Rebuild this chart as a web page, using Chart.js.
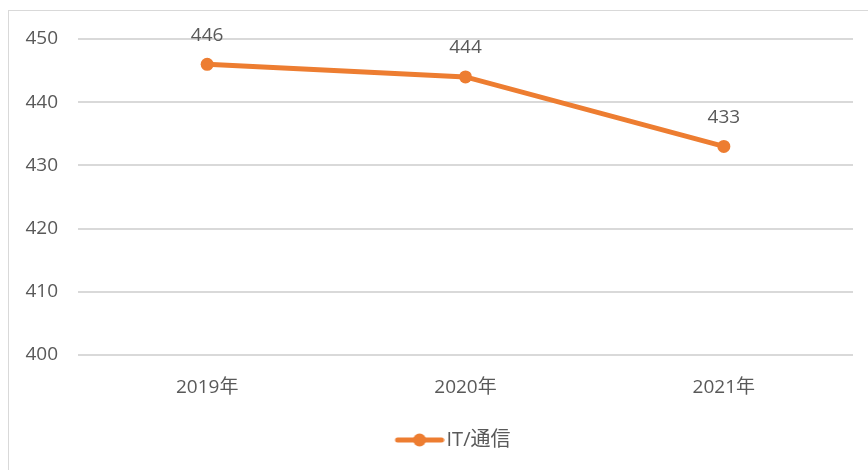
<!DOCTYPE html>
<html lang="ja">
  <head>
    <meta charset="UTF-8" />
    <title>IT/通信</title>
    <script src="https://cdn.jsdelivr.net/npm/chart.js@4/dist/chart.umd.min.js"></script>
    <style>
      html, body { margin: 0; padding: 0; background: #fff; overflow: hidden; }
      #frame {
        position: absolute; left: 8px; top: 10px; width: 900px; height: 500px;
        border: 1px solid #d9d9d9;
      }
      #wrap { position: absolute; left: 0; top: 0; width: 868px; height: 470px; }
    </style>
  </head>
  <body>
    <div id="frame"></div>
    <div id="wrap"><canvas id="myChart"></canvas></div>

    <script>
      const years = ["2019年", "2020年", "2021年"];
      const itValues = [446, 444, 433];
      const yTicks = [400, 410, 420, 430, 440, 450];

      const orange = "#ED7D31";
      const textColor = "#595959";
      const fontFamily = "'Open Sans', 'Noto Sans CJK SC', sans-serif";

      // legend marker: line with a dot (drawn in the right part so it sits close to the text)
      const marker = document.createElement("canvas");
      marker.width = 66;
      marker.height = 14;
      const mctx = marker.getContext("2d");
      mctx.strokeStyle = orange;
      mctx.lineWidth = 5;
      mctx.lineCap = "round";
      mctx.beginPath();
      mctx.moveTo(19, 7);
      mctx.lineTo(63, 7);
      mctx.stroke();
      mctx.fillStyle = orange;
      mctx.beginPath();
      mctx.arc(41, 7, 6.5, 0, Math.PI * 2);
      mctx.fill();

      const valueLabels = {
        id: "valueLabels",
        afterDatasetsDraw(chart) {
          const c = chart.ctx;
          c.save();
          c.font = "19px " + fontFamily;
          c.fillStyle = textColor;
          c.textAlign = "center";
          c.textBaseline = "middle";
          chart.getDatasetMeta(0).data.forEach((pt, i) => {
            c.fillText(String(itValues[i]), pt.x, pt.y - 29);
          });
          c.restore();
        },
      };

      // Excel centres the legend a bit to the right of the canvas middle
      const shiftLegend = {
        id: "shiftLegend",
        afterLayout(chart) {
          chart.legend.left += 22;
          chart.legend.right += 22;
        },
      };

      const ctx = document.getElementById("myChart");
      new Chart(ctx, {
        type: "line",
        data: {
          labels: years,
          datasets: [
            {
              label: "IT/通信",
              data: itValues,
              borderColor: orange,
              backgroundColor: orange,
              borderWidth: 5,
              pointRadius: 6.5,
              pointStyle: "circle",
              pointBackgroundColor: orange,
              pointBorderWidth: 0,
              tension: 0,
            },
          ],
        },
        options: {
          responsive: true,
          maintainAspectRatio: false,
          animation: false,
          layout: { padding: { left: 0, right: 15, top: 39, bottom: 10 } },
          plugins: {
            tooltip: { enabled: false },
            legend: {
              position: "bottom",
              labels: {
                usePointStyle: true,
                pointStyleWidth: 50,
                generateLabels(chart) {
                  return [{
                    text: chart.data.datasets[0].label,
                    pointStyle: marker,
                    fontColor: textColor,
                    datasetIndex: 0,
                    hidden: false,
                  }];
                },
                color: textColor,
                font: { size: 20, family: fontFamily },
                padding: 12,
              },
            },
          },
          scales: {
            x: {
              offset: true,
              grid: { display: false },
              border: { display: false },
              ticks: { color: textColor, font: { size: 19, family: fontFamily }, padding: 13 },
              afterFit(scale) {
                scale.height = 63;
              },
            },
            y: {
              min: 400,
              max: 450,
              afterBuildTicks(scale) {
                scale.ticks = yTicks.map((v) => ({ value: v }));
              },
              afterFit(scale) {
                scale.width = 78;
              },
              grid: { color: "#d9d9d9", lineWidth: 2, drawTicks: false },
              border: { display: false },
              ticks: { color: textColor, font: { size: 19, family: fontFamily }, padding: 20 },
            },
          },
        },
        plugins: [valueLabels, shiftLegend],
      });
    </script>
  </body>
</html>
